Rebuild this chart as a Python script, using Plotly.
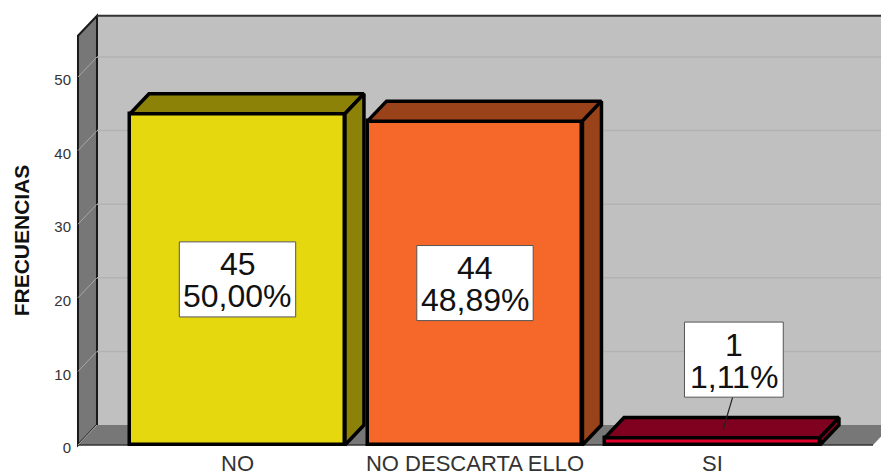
import plotly.graph_objects as go

categories = ['NO', 'NO DESCARTA ELLO', 'SI']
counts = [45, 44, 1]
percents = ['50,00%', '48,89%', '1,11%']
y_ticks = [0, 10, 20, 30, 40, 50]

FRONT = ['#e5d80e', '#f5682a', '#e0002c']
SHADE = ['#8c8208', '#9a431a', '#800020']

# fake 3d, everything is in axis units
BAR_W = 0.905
DX = 0.08
DY = 2.72
WALL_L = -0.6716
WALL_R = 2.676
WALL_TOP = 55.6
LINE = 'black'


def poly(xs, ys):
    d = 'M ' + ' L '.join(f'{x},{y}' for x, y in zip(xs, ys)) + ' Z'
    return d


fig = go.Figure()

# walls and floor
back = poly([WALL_L + DX, WALL_R + DX, WALL_R + DX, WALL_L + DX], [DY, DY, WALL_TOP + DY, WALL_TOP + DY])
side = poly([WALL_L, WALL_L + DX, WALL_L + DX, WALL_L], [0, DY, WALL_TOP + DY, WALL_TOP])
floor = poly([WALL_L, WALL_R, WALL_R + DX, WALL_L + DX], [0, 0, DY, DY])
fig.add_shape(type='path', path=back, fillcolor='#c0c0c0', line=dict(width=0), layer='below')
fig.add_shape(type='path', path=side, fillcolor='#777777', line=dict(color='#1a1a1a', width=2), layer='below')
fig.add_shape(type='path', path=floor, fillcolor='#777777', line=dict(width=0), layer='below')
fig.add_shape(type='line', x0=WALL_L + DX, x1=WALL_R + DX, y0=WALL_TOP + DY, y1=WALL_TOP + DY,
              line=dict(color='#333333', width=2), layer='below')
fig.add_shape(type='line', x0=WALL_L, x1=WALL_R, y0=0, y1=0, line=dict(color='#333333', width=1.5), layer='below')

for t in y_ticks:
    if t > 0:
        fig.add_shape(type='line', x0=WALL_L + DX, x1=WALL_R + DX, y0=t + DY, y1=t + DY,
                      line=dict(color='#b2b2b2', width=1.5), layer='below')
    fig.add_shape(type='line', x0=WALL_L, x1=WALL_L + DX, y0=t, y1=t + DY,
                  line=dict(color='#a8a8a8', width=1), layer='below')

# front faces
fig.add_trace(go.Bar(x=list(range(len(categories))), y=counts, width=BAR_W,
                     marker=dict(color=FRONT, line=dict(color=LINE, width=3.5)),
                     hoverinfo='skip', showlegend=False))

# top and side faces of each bar
for i, v in enumerate(counts):
    x0, x1 = i - BAR_W / 2, i + BAR_W / 2
    fig.add_trace(go.Scatter(x=[x0, x1, x1 + DX, x0 + DX, x0], y=[v, v, v + DY, v + DY, v],
                             mode='lines', fill='toself', fillcolor=SHADE[i],
                             line=dict(color=LINE, width=3.5), hoverinfo='skip', showlegend=False))
    fig.add_trace(go.Scatter(x=[x1, x1 + DX, x1 + DX, x1, x1], y=[0, DY, v + DY, v, 0],
                             mode='lines', fill='toself', fillcolor=SHADE[i],
                             line=dict(color=LINE, width=3.5), hoverinfo='skip', showlegend=False))

# value boxes, centred on half the bar except the small one
label_x = [0, 1, 2.09]
label_y = [counts[0] / 2, counts[1] / 2, 11.6]
half_w = [0.245, 0.245, 0.208]
half_h = 5.1

fig.add_shape(type='line', x0=2.044, y0=2.04, x1=2.085, y1=label_y[2] - half_h,
              line=dict(color='#222222', width=1.2))
for i, v in enumerate(counts):
    fig.add_shape(type='rect', x0=label_x[i] - half_w[i], x1=label_x[i] + half_w[i],
                  y0=label_y[i] - half_h, y1=label_y[i] + half_h,
                  fillcolor='white', line=dict(color='#555555', width=1))
    fig.add_annotation(x=label_x[i], y=label_y[i], text=str(v), showarrow=False, yshift=15,
                       font=dict(family='Liberation Sans', size=32, color='#111111'))
    fig.add_annotation(x=label_x[i], y=label_y[i], text=percents[i], showarrow=False, yshift=-17,
                       font=dict(family='Liberation Sans', size=32, color='#111111'))

fig.add_annotation(xref='paper', yref='paper', x=-0.0835, y=0.464, text='<b>FRECUENCIAS</b>', textangle=-90,
                   showarrow=False, font=dict(family='Liberation Sans', size=21, color='#111111'))

fig.update_layout(
    width=881, height=473,
    margin=dict(l=75, r=0, t=0, b=25),
    paper_bgcolor='white', plot_bgcolor='white',
    bargap=0,
    showlegend=False,
)
fig.update_xaxes(range=[-0.6842, 2.7095], tickmode='array', tickvals=[0, 1, 2], ticktext=categories,
                 showgrid=False, zeroline=False, showline=False, ticks='', automargin=False,
                 tickfont=dict(family='Liberation Sans', size=22, color='#333333'))
fig.update_yaxes(range=[-0.408, 60.46], tickmode='array', tickvals=y_ticks,
                 showgrid=False, zeroline=False, showline=False, ticks='', automargin=False,
                 ticklabelstandoff=3, ticklabelshift=3,
                 tickfont=dict(family='Liberation Sans', size=15, color='#333333'))

# page has a default 8px body margin, drop it so the figure fills the window
fig.write_html('out.html', config=dict(displayModeBar=False),
               post_script="document.body.style.margin='0';document.body.style.overflow='hidden';")
